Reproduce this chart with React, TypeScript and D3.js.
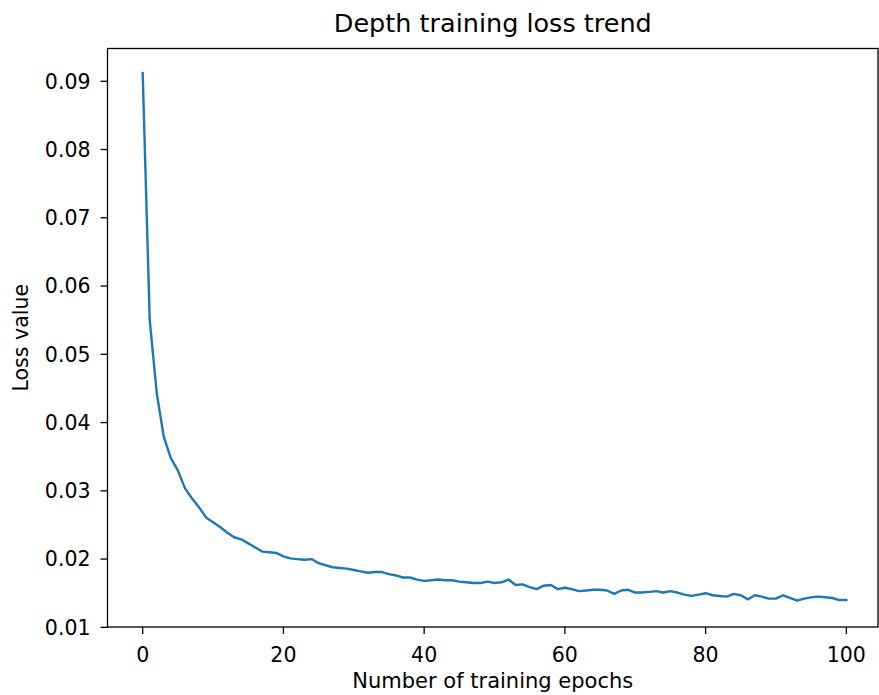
import * as d3 from 'd3'
import React from 'react'

// loss per epoch (epochs 0..100)
const epochs = d3.range(0, 101)
const lossValues = [
  0.0912, 0.055, 0.0443, 0.0379, 0.0348, 0.033, 0.0304, 0.0289, 0.0276, 0.0261,
  0.0254, 0.0247, 0.0239, 0.0232, 0.0229, 0.0223, 0.0217, 0.0211, 0.021, 0.0209,
  0.0204, 0.0201, 0.02, 0.0199, 0.02, 0.0194, 0.0191, 0.0188, 0.0187, 0.0186,
  0.0184, 0.0182, 0.018, 0.0181, 0.0181, 0.0178, 0.0176, 0.0173, 0.0173, 0.017,
  0.0168, 0.0169, 0.017, 0.0169, 0.0169, 0.0167, 0.0166, 0.0165, 0.0165, 0.0167,
  0.0165, 0.0166, 0.017, 0.0162, 0.0163, 0.0159, 0.0156, 0.0161, 0.0162, 0.0156,
  0.0158, 0.0156, 0.0153, 0.0154, 0.0155, 0.0155, 0.0154, 0.0149, 0.0154, 0.0155,
  0.0151, 0.0151, 0.0152, 0.0153, 0.0151, 0.0153, 0.0151, 0.0148, 0.0146, 0.0148,
  0.015, 0.0147, 0.0146, 0.0145, 0.0149, 0.0147, 0.0141, 0.0147, 0.0145, 0.0142,
  0.0142, 0.0147, 0.0143, 0.0139, 0.0142, 0.0144, 0.0145, 0.0144, 0.0143, 0.014,
  0.014,
]
const xTicks = [0, 20, 40, 60, 80, 100]
const yTicks = [0.01, 0.02, 0.03, 0.04, 0.05, 0.06, 0.07, 0.08, 0.09]

const title = 'Depth training loss trend'
const xLabel = 'Number of training epochs'
const yLabel = 'Loss value'

const width = 879
const height = 695
const margin = { top: 48.5, right: 1, bottom: 68, left: 107.5 }
const font = '"DejaVu Sans", sans-serif'

const App = () => {
  const x = d3
    .scaleLinear()
    .domain([-5, 104.5])
    .range([margin.left, width - margin.right])
  const y = d3
    .scaleLinear()
    .domain([0.01005, 0.0948])
    .range([height - margin.bottom, margin.top])

  const points = epochs.map((e, i) => [e, lossValues[i]])
  const line = d3
    .line()
    .x((d) => x(d[0]))
    .y((d) => y(d[1]))

  const fmt = d3.format('.2f')
  const x0 = margin.left
  const x1 = width - margin.right
  const y0 = height - margin.bottom
  const y1 = margin.top

  return (
    <div style={{ position: 'absolute', left: 0, top: 0 }}>
      <svg width={width} height={height} style={{ display: 'block', background: 'white' }} fontFamily={font}>
        <path d={line(points)} fill="none" stroke="#1f77b4" strokeWidth={2.4} strokeLinejoin="round" strokeLinecap="square" />

        {/* frame */}
        <rect x={x0} y={y1} width={x1 - x0} height={y0 - y1} fill="none" stroke="#000" strokeWidth={1.3} />

        {xTicks.map((t) => (
          <g key={t} transform={`translate(${x(t)},${y0})`}>
            <line y2={7} stroke="#000" strokeWidth={1.3} />
            <text y={35} textAnchor="middle" fontSize={20.5} fill="#000">
              {t}
            </text>
          </g>
        ))}

        {yTicks.map((t) => (
          <g key={t} transform={`translate(${x0},${y(t)})`}>
            <line x2={-7} stroke="#000" strokeWidth={1.3} />
            <text x={-17} dy="0.36em" textAnchor="end" fontSize={20.5} fill="#000">
              {fmt(t)}
            </text>
          </g>
        ))}

        <text x={(x0 + x1) / 2} y={32} textAnchor="middle" fontSize={25.5} fill="#000">
          {title}
        </text>
        <text x={(x0 + x1) / 2} y={688} textAnchor="middle" fontSize={21} fill="#000">
          {xLabel}
        </text>
        <text
          transform={`translate(28,${(y0 + y1) / 2}) rotate(-90)`}
          textAnchor="middle"
          fontSize={20.5}
          fill="#000"
        >
          {yLabel}
        </text>
      </svg>
    </div>
  )
}

export default App
